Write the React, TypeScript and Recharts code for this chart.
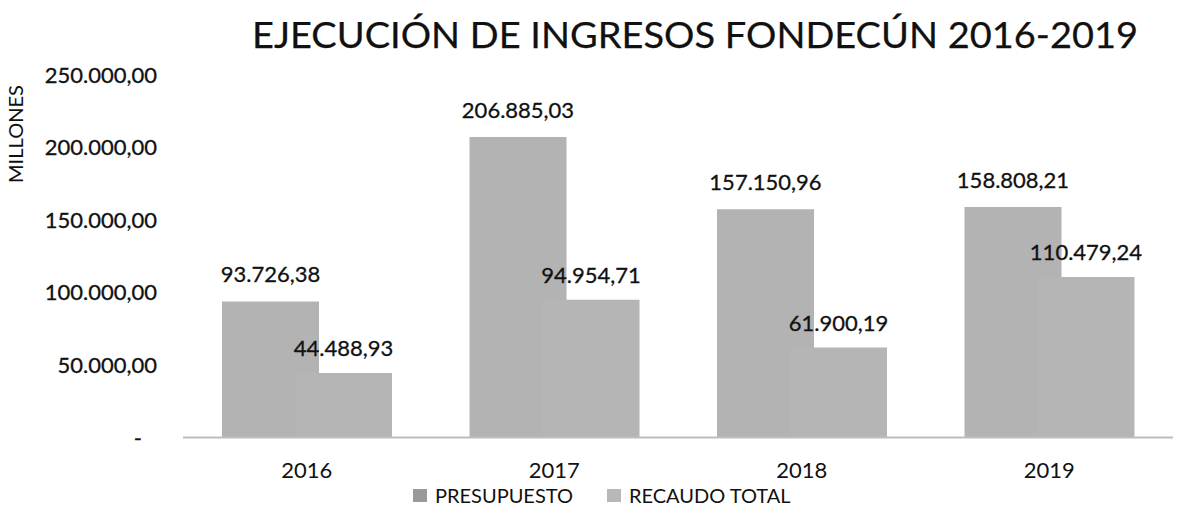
import React from 'react';
import { BarChart, Bar, XAxis, YAxis, LabelList, Legend } from 'recharts';

const categories = ['2016', '2017', '2018', '2019'];
const presupuesto = [93726.38, 206885.03, 157150.96, 158808.21];
const recaudoTotal = [44488.93, 94954.71, 61900.19, 110479.24];
const yTicks = [0, 50000, 100000, 150000, 200000, 250000];
const seriesNames = ['PRESUPUESTO', 'RECAUDO TOTAL'];
const title = 'EJECUCIÓN DE INGRESOS FONDECÚN 2016-2019';
const yTitle = 'MILLONES';

const data = categories.map((c, i) => ({
  year: c,
  presupuesto: presupuesto[i],
  recaudo: recaudoTotal[i],
}));

const FONT = 'Lato, "Open Sans", sans-serif';
const COLORS = ['#b3b3b3', '#b5b5b5'];
const ICON_COLORS = ['#9a9a9a', '#b8b8b8'];

function fmt(v: number): string {
  const fixed = Math.abs(v).toFixed(2);
  const [intPart, dec] = fixed.split('.');
  const withDots = intPart.replace(/\B(?=(\d{3})+(?!\d))/g, '.');
  return (v < 0 ? '-' : '') + withDots + ',' + dec;
}

const YTick = (props: any) => {
  const { x, y, payload } = props;
  const v = payload.value;
  return (
    <text
      x={v === 0 ? x - 15 : x}
      y={y}
      dy={8}
      textAnchor="end"
      fontFamily={FONT}
      fontSize={22}
      fill="#111"
      stroke="#111"
      strokeWidth={0.3}
    >
      {v === 0 ? '-' : fmt(v)}
    </text>
  );
};

const LegendContent = () => (
  <div style={{ display: 'flex', alignItems: 'center', fontFamily: FONT, fontSize: 20, color: '#111', height: 30 }}>
    {seriesNames.map((n, i) => (
      <div key={n} style={{ display: 'flex', alignItems: 'center', marginRight: 34 }}>
        <span style={{ display: 'inline-block', width: 14, height: 13, background: ICON_COLORS[i], marginRight: 8 }} />
        <span>{n}</span>
      </div>
    ))}
  </div>
);

export default function App() {
  return (
    <div style={{ position: 'absolute', left: 0, top: 0, width: 1181, height: 525, background: '#fff' }}>
      <BarChart
        width={1181}
        height={525}
        data={data}
        margin={{ top: 74.5, right: 8, left: 0, bottom: 0 }}
        barGap={-24}
      >
        <text
          x={252}
          y={48}
          textAnchor="start"
          fontFamily={FONT}
          fontSize={37}
          fill="#111"
          stroke="#111"
          strokeWidth={0.25}
          textLength={886}
          lengthAdjust="spacingAndGlyphs"
        >
          {title}
        </text>
        <text
          transform="translate(23,134) rotate(-90)"
          textAnchor="middle"
          fontFamily={FONT}
          fontSize={19}
          fill="#111"
          textLength={98}
          lengthAdjust="spacingAndGlyphs"
        >
          {yTitle}
        </text>
        <XAxis
          dataKey="year"
          height={57.5}
          tickLine={false}
          tickSize={0}
          tickMargin={25}
          axisLine={{ stroke: '#bdbdbd', strokeWidth: 2 }}
          tick={{ fontFamily: FONT, fontSize: 22, fill: '#111' }}
        />
        <YAxis
          width={183}
          domain={[0, 250000]}
          ticks={yTicks}
          axisLine={false}
          tickLine={false}
          tickSize={0}
          tickMargin={26}
          tick={<YTick />}
        />
        <Legend
          height={30}
          content={<LegendContent />}
          wrapperStyle={{ left: 413, bottom: 15, width: 500 }}
        />
        <Bar dataKey="presupuesto" name={seriesNames[0]} fill={COLORS[0]} barSize={97} isAnimationActive={false}>
          <LabelList
            dataKey="presupuesto"
            position="top"
            offset={19}
            formatter={(v: any) => fmt(Number(v))}
            style={{ fontFamily: FONT, fontSize: 22, fill: '#111', stroke: '#111', strokeWidth: 0.3 }}
          />
        </Bar>
        <Bar dataKey="recaudo" name={seriesNames[1]} fill={COLORS[1]} barSize={97} isAnimationActive={false}>
          <LabelList
            dataKey="recaudo"
            position="top"
            offset={17}
            formatter={(v: any) => fmt(Number(v))}
            style={{ fontFamily: FONT, fontSize: 22, fill: '#111', stroke: '#111', strokeWidth: 0.3 }}
          />
        </Bar>
      </BarChart>
    </div>
  );
}
